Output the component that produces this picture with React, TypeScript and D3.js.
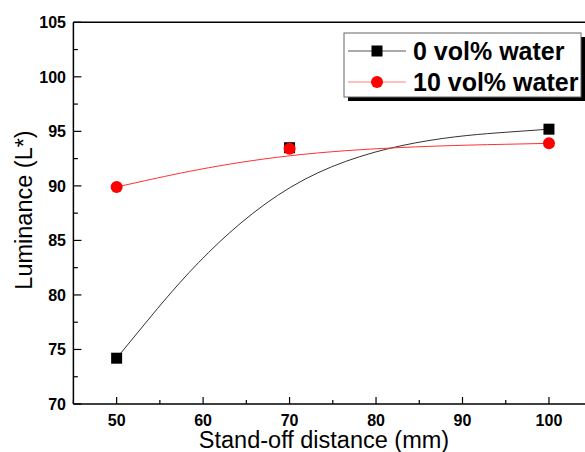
import React from 'react';
import * as d3 from 'd3';

// stand-off distance (mm)
const distances = [50, 70, 100];
const water0 = [74.2, 93.5, 95.2];
const water10 = [89.9, 93.4, 93.9];
const seriesNames = ['0 vol% water', '10 vol% water'];

const xTicks = [50, 60, 70, 80, 90, 100];
const xMinor = [45, 55, 65, 75, 85, 95, 105];
const yTicks = [70, 75, 80, 85, 90, 95, 100, 105];
const yMinor = [72.5, 77.5, 82.5, 87.5, 92.5, 97.5, 102.5];

const W = 585;
const H = 452;

export default function App() {
  const x = d3.scaleLinear().domain([45, 105]).range([73.4, 592.2]);
  const y = d3.scaleLinear().domain([70, 105]).range([404, 22.3]);

  const line = d3
    .line<number>()
    .x((d, i) => x(distances[i]))
    .y((d) => y(d))
    .curve(d3.curveBasis);

  const left = x(45);
  const right = x(105);
  const top = y(105);
  const bottom = y(70);

  const tickFont = { fontFamily: 'Liberation Sans, Arial, sans-serif', fontWeight: 'bold', fontSize: 16 };
  const titleFont = { fontFamily: 'Liberation Sans, Arial, sans-serif', fontSize: 23.5 };

  return (
    <svg width={W} height={H} style={{ position: 'absolute', left: 0, top: 0, background: '#fff' }}>
      {/* frame */}
      <g stroke="#000" strokeWidth={1.5} fill="none">
        <line x1={left} y1={top} x2={right} y2={top} />
        <line x1={left} y1={bottom} x2={right} y2={bottom} />
        <line x1={left} y1={top} x2={left} y2={bottom} />
      </g>

      {/* ticks */}
      <g stroke="#000" strokeWidth={1.2}>
        {xTicks.map((t) => (
          <line key={'xt' + t} x1={x(t)} x2={x(t)} y1={bottom} y2={bottom - 7} />
        ))}
        {xMinor.map((t) => (
          <line key={'xm' + t} x1={x(t)} x2={x(t)} y1={bottom} y2={bottom - 4} />
        ))}
        {yTicks.map((t) => (
          <line key={'yt' + t} x1={left} x2={left + 8} y1={y(t)} y2={y(t)} />
        ))}
        {yMinor.map((t) => (
          <line key={'ym' + t} x1={left} x2={left + 4.5} y1={y(t)} y2={y(t)} />
        ))}
      </g>

      {xTicks.map((t) => (
        <text key={'xl' + t} x={x(t)} y={426} textAnchor="middle" style={tickFont}>
          {t}
        </text>
      ))}
      {yTicks.map((t) => (
        <text key={'yl' + t} x={66} y={y(t)} dy="0.36em" textAnchor="end" style={tickFont}>
          {t}
        </text>
      ))}

      <text x={324} y={448} textAnchor="middle" style={titleFont}>
        Stand-off distance (mm)
      </text>
      <text transform={`translate(32,210) rotate(-90)`} textAnchor="middle" style={titleFont}>
        Luminance (L*)
      </text>

      {/* curves */}
      <path d={line(water0) || ''} fill="none" stroke="#333" strokeWidth={1} />
      <path d={line(water10) || ''} fill="none" stroke="#ff3030" strokeWidth={1} />

      {water0.map((v, i) => (
        <rect key={'s' + i} x={x(distances[i]) - 5.5} y={y(v) - 5.5} width={11} height={11} fill="#000" />
      ))}
      {water10.map((v, i) => (
        <circle key={'c' + i} cx={x(distances[i])} cy={y(v)} r={6} fill="#ff0000" />
      ))}

      {/* legend */}
      <rect x={348} y={37} width={237} height={64} fill="#000" />
      <rect x={344} y={33} width={237} height={64} fill="#fff" stroke="#666" strokeWidth={1} />
      <line x1={348} x2={406} y1={51} y2={51} stroke="#555" strokeWidth={1} />
      <rect x={371.5} y={45.5} width={11} height={11} fill="#000" />
      <line x1={348} x2={406} y1={82} y2={82} stroke="#ff8080" strokeWidth={1} />
      <circle cx={377} cy={82} r={6} fill="#ff0000" />
      <text x={413} y={60} style={{ ...tickFont, fontSize: 25 }}>
        {seriesNames[0]}
      </text>
      <text x={413} y={91} style={{ ...tickFont, fontSize: 25 }}>
        {seriesNames[1]}
      </text>
    </svg>
  );
}
